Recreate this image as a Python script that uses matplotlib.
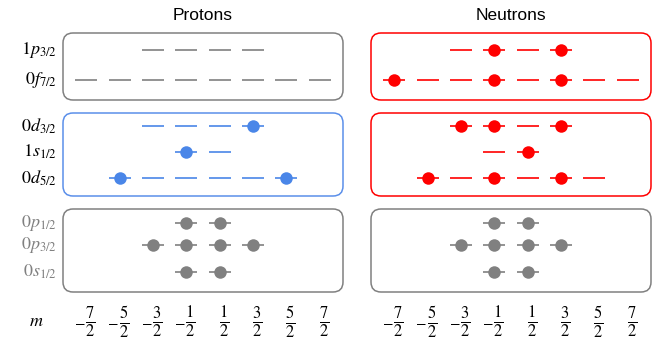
import numpy as np
import matplotlib
matplotlib.use('Agg')
import matplotlib.pyplot as plt
from matplotlib.patches import FancyBboxPatch

plt.rcParams['mathtext.fontset'] = 'stix'
plt.rcParams['font.family'] = ['Liberation Sans', 'DejaVu Sans']

# levels, top to bottom
levels = ['1p3/2', '0f7/2', '0d3/2', '1s1/2', '0d5/2', '0p1/2', '0p3/2', '0s1/2']
level_tex = [r'$1p_{3/2}$', r'$0f_{7/2}$', r'$0d_{3/2}$', r'$1s_{1/2}$', r'$0d_{5/2}$',
             r'$0p_{1/2}$', r'$0p_{3/2}$', r'$0s_{1/2}$']
two_j = [3, 7, 3, 1, 5, 1, 3, 1]
groups = ['top', 'top', 'mid', 'mid', 'mid', 'core', 'core', 'core']

m_signs = ['-', '-', '-', '-', '', '', '', '']
m_fracs = [r'$\frac{7}{2}$', r'$\frac{5}{2}$', r'$\frac{3}{2}$', r'$\frac{1}{2}$',
           r'$\frac{1}{2}$', r'$\frac{3}{2}$', r'$\frac{5}{2}$', r'$\frac{7}{2}$']
m_ticks = [-3.5, -2.5, -1.5, -0.5, 0.5, 1.5, 2.5, 3.5]

proton_occ = {
    '1p3/2': [], '0f7/2': [],
    '0d3/2': [1.5], '1s1/2': [-0.5], '0d5/2': [-2.5, 2.5],
    '0p1/2': [-0.5, 0.5], '0p3/2': [-1.5, -0.5, 0.5, 1.5], '0s1/2': [-0.5, 0.5],
}
neutron_occ = {
    '1p3/2': [-0.5, 1.5], '0f7/2': [-3.5, -0.5, 1.5],
    '0d3/2': [-1.5, -0.5, 1.5], '1s1/2': [0.5], '0d5/2': [-2.5, -0.5, 1.5],
    '0p1/2': [-0.5, 0.5], '0p3/2': [-1.5, -0.5, 0.5, 1.5], '0s1/2': [-0.5, 0.5],
}

# layout (pixel rows, figure is 657x339)
W, H = 657, 339
row_y = [50, 80, 126, 152, 178, 223, 245, 272]
group_box = {'top': (33, 100), 'mid': (113, 196), 'core': (209, 292)}
GRAY = '#808080'
BLUE = '#4a86e8'
RED = '#ff0000'
panels = [
    ('Protons', proton_occ, 63, {'top': GRAY, 'mid': BLUE, 'core': GRAY},
     {'top': GRAY, 'mid': '#5b8fea', 'core': GRAY}),
    ('Neutrons', neutron_occ, 371, {'top': RED, 'mid': RED, 'core': GRAY},
     {'top': RED, 'mid': RED, 'core': GRAY}),
]

fig = plt.figure(figsize=(W / 100, H / 100), dpi=100)
xr = 4.2
px_per_m = 280 / (2 * xr)

for title, occ, left, colors, box_colors in panels:
    ax = fig.add_axes([left / W, 0, 280 / W, 1])
    ax.set_xlim(-xr, xr)
    ax.set_ylim(H, 0)
    ax.axis('off')

    for g, (y0, y1) in group_box.items():
        r = 10 / px_per_m
        box = FancyBboxPatch((-xr, y0), 2 * xr, y1 - y0,
                             boxstyle=f'round,pad=0,rounding_size={r}',
                             mutation_aspect=px_per_m,
                             fc='none', ec=box_colors[g], lw=1.1, clip_on=False)
        ax.add_patch(box)

    for lev, tj, g, y in zip(levels, two_j, groups, row_y):
        c = colors[g]
        ms = np.arange(-tj, tj + 1, 2) / 2
        for m in ms:
            ax.plot([m - 0.33, m + 0.33], [y, y], color=c, lw=1.2,
                    solid_capstyle='butt')
        filled = occ[lev]
        if filled:
            ax.plot(filled, [y] * len(filled), 'o', color=c, ms=9, mec='none')

    ax.text(0, 15, title, ha='center', va='center', fontsize=12.5)
    for m, sign, frac in zip(m_ticks, m_signs, m_fracs):
        ax.text(m + 0.12, 322, frac, ha='center', va='center', fontsize=17)
        if sign:
            ax.text(m - 0.2, 322, r'$-$', ha='center', va='center', fontsize=11)

# level labels on the left
lab_ax = fig.add_axes([0, 0, 1, 1])
lab_ax.set_xlim(0, W)
lab_ax.set_ylim(H, 0)
lab_ax.axis('off')
for tex, g, y in zip(level_tex, groups, row_y):
    lab_ax.text(57, y, tex, ha='right', va='center', fontsize=13,
                color=GRAY if g == 'core' else 'black')
lab_ax.text(36, 322, r'$m$', ha='center', va='center', fontsize=13)

fig.savefig('out.png', dpi=100)
